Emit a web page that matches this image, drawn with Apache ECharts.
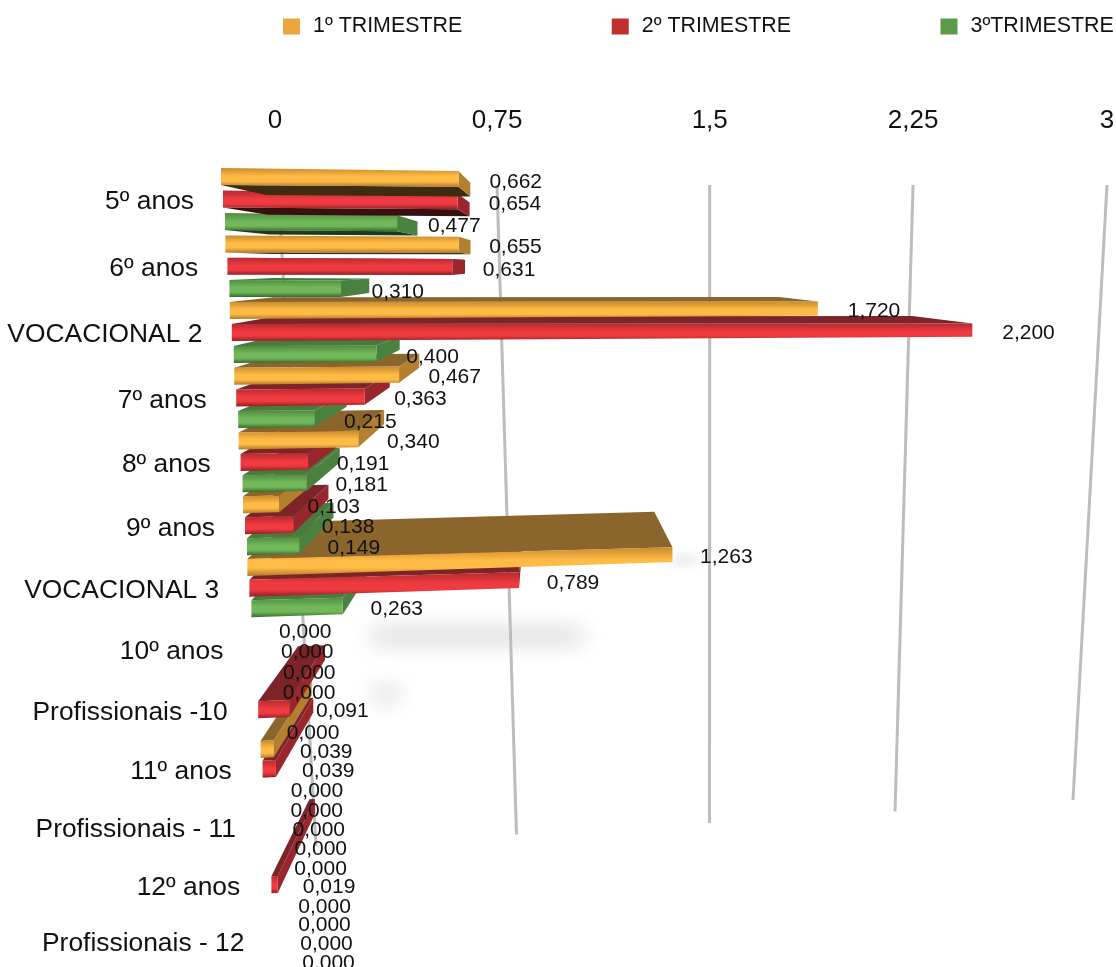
<!DOCTYPE html>
<html>
<head>
<meta charset="utf-8">
<script src="https://cdn.jsdelivr.net/npm/echarts@6/dist/echarts.min.js"></script>
<style>html,body{margin:0;padding:0;background:#fff}#c{width:1116px;height:967px}</style>
</head>
<body>
<div id="c"></div>
<script>
const categories = ['5º anos','6º anos','VOCACIONAL 2','7º anos','8º anos','9º anos','VOCACIONAL 3','10º anos','Profissionais -10','11º anos','Profissionais - 11','12º anos','Profissionais - 12'];
const trimestre1 = [0.662,0.655,1.720,0.467,0.340,0.103,1.263,0,0,0.039,0,0,0];
const trimestre2 = [0.654,0.631,2.200,0.363,0.191,0.138,0.789,0,0.091,0.039,0,0.019,0];
const trimestre3 = [0.477,0.310,0.400,0.215,0.181,0.149,0.263,0,0,0,0,0,0];
const seriesNames = ['1º TRIMESTRE','2º TRIMESTRE','3ºTRIMESTRE'];
const tickValues = [0,0.75,1.5,2.25,3];
const tickLabels = ['0','0,75','1,5','2,25','3'];
const allSeries = [trimestre1,trimestre2,trimestre3];

const FONT = '"Liberation Sans", Arial, sans-serif';
const G = {left:275, top:168, width:832, height:799};
const UNIT = G.width/3, BAND = G.height/categories.length;
const palettes = [
  {legend:'#eaa53b', edge:'#c98a2c', mid:'#ffbb45', low:'#b07a28', face:'#8a652c', under:'#3d2b12', cap:'#b3802f'},
  {legend:'#c1302e', edge:'#b52a2e', mid:'#ee3a40', low:'#8f1f24', face:'#7c2428', under:'#38100f', cap:'#98272d'},
  {legend:'#5a9a48', edge:'#4f8c40', mid:'#72b85a', low:'#356a2c', face:'#4b7a3d', under:'#1e3a1b', cap:'#4a8040'}
];
// perspective of the picture: vanishing point and its strength
const VP = {x:543, y:265, kx:0.14, ky:0.126};
const back = (p) => [p[0]+VP.kx*(VP.x-p[0]), p[1]-VP.ky*(p[1]-VP.y)];
const warpY = (r) => 199+66.7*r-0.403*r*r+3.5*Math.sin(Math.PI*r/12);
const fmt = (v) => v.toFixed(3).replace('.',',');

function softShadow(x,y,w,h,color,blur){
  // the rectangle sits off the canvas, only its blurred shadow lands on it
  return {type:'rect',z2:1,shape:{x:x-3000,y:y,width:w,height:h},
    style:{fill:color,shadowBlur:blur,shadowColor:color,shadowOffsetX:3000}};
}

function barRenderer(s){
  const pal = palettes[s];
  return function(params, api){
    const v0 = api.value(0);
    const p = api.coord([v0, api.value(1)]);
    const r = (p[1]-G.top)/BAND-0.5;
    const v = (p[0]-G.left)/UNIT;
    const x0 = 221+4.4*r+2*s;
    const len = (366-2.6*r)*v-11*v*v;
    const yc = warpY(r+(s-1)/3);
    const tilt = -0.0067*(r-1.5);
    const h0 = 8.5, h1 = 8.5*(1-0.0003*len);
    const TL=[x0,yc-h0], BL=[x0,yc+h0], TR=[x0+len,yc+tilt*len-h1], BR=[x0+len,yc+tilt*len+h1];
    const base = 1000-r*10-s*3;
    const kids = [];
    if(v0>0){
      const biggest = v0===Math.max(trimestre1[params.dataIndex],trimestre2[params.dataIndex],trimestre3[params.dataIndex]);
      if(r>=6 && v0>=0.09 && r<=8 && biggest){
        const sy = yc+68-42*(r-6);
        kids.push(softShadow(x0+115+0.02*len,sy-4,Math.max(24,0.5*len),9,'#bdbdbd',22));
        if(r<7) kids.push(softShadow(x0+len,yc+tilt*len+3,24,5,'#d2d2d2',12));
      }
      const isTop = yc>VP.y;
      const e1 = isTop?TL:BL, e2 = isTop?TR:BR;
      kids.push({type:'polygon',z2:base,shape:{points:[e1,e2,back(e2),back(e1)]},
        style:{fill:isTop?pal.face:pal.under}});
      if(x0+len<VP.x){
        kids.push({type:'polygon',z2:base+0.5,shape:{points:[TR,BR,back(BR),back(TR)]},style:{fill:pal.cap}});
      }
      kids.push({type:'polygon',z2:base+1,shape:{points:[TL,TR,BR,BL]},style:{
        fill:new echarts.graphic.LinearGradient(0,0,0,1,[
          {offset:0,color:pal.edge},{offset:0.45,color:pal.mid},{offset:0.72,color:pal.mid},{offset:1,color:pal.low}])}});
    }
    kids.push({type:'text',z2:5000,style:{text:fmt(v0),x:x0+len+31-0.55*r,y:yc+tilt*len+3,
      fill:'#111',fontSize:21,fontFamily:FONT,textAlign:'left',textVerticalAlign:'middle'}});
    return {type:'group',children:kids};
  };
}

const barSeries = allSeries.map((vals,s)=>({
  name:seriesNames[s], type:'custom', clip:false, silent:true,
  itemStyle:{color:palettes[s].legend},
  encode:{x:0,y:1},
  data:vals.map((v,i)=>[v,i]),
  renderItem:barRenderer(s)
}));

const gridSeries = {
  type:'custom', clip:false, silent:true, encode:{x:0,y:1},
  data:tickValues.map((t,i)=>[t,0,i]),
  renderItem(params, api){
    const px = api.coord([api.value(0),0])[0];
    const t = (px-G.left)/G.width;
    const top = 275+G.width*(1.09*t-0.09*t*t);
    const lineTop = top+3*(1-Math.min(1,t*4));
    const bottom = 316+817*t-60*t*t;
    return {type:'group',children:[
      {type:'line',z2:0,shape:{x1:lineTop,y1:185,x2:bottom,y2:846-46*t},style:{stroke:'#bdbdbd',lineWidth:3}},
      {type:'text',z2:5000,style:{text:tickLabels[api.value(2)],x:top,y:121,fill:'#111',fontSize:26,fontFamily:FONT,textAlign:'center',textVerticalAlign:'middle'}}
    ]};
  }
};

const catSeries = {
  type:'custom', clip:false, silent:true, encode:{x:0,y:1},
  data:categories.map((c,i)=>[0,i]),
  renderItem(params, api){
    const y = api.coord([0,api.value(1)])[1];
    const r = (y-G.top)/BAND-0.5;
    return {type:'text',z2:5000,style:{text:categories[params.dataIndex],x:194+4.2*r,y:warpY(r)+2.5,
      fill:'#111',fontSize:26.4,fontFamily:FONT,textAlign:'right',textVerticalAlign:'middle'}};
  }
};

const chart = echarts.init(document.getElementById('c'),null,{renderer:'canvas'});
chart.setOption({
  animation:false,
  backgroundColor:'#fff',
  legend:{data:seriesNames,left:278,top:11,width:838,icon:'rect',itemWidth:17,itemHeight:16,itemGap:149.5,
    textStyle:{fontSize:21.4,fontFamily:FONT,color:'#111',padding:[0,0,0,8]}},
  grid:{left:G.left,top:G.top,width:G.width,height:G.height,containLabel:false},
  xAxis:{type:'value',position:'top',min:0,max:3,interval:0.75,axisLabel:{show:false},axisLine:{show:false},axisTick:{show:false},splitLine:{show:false}},
  yAxis:{type:'category',inverse:true,data:categories,axisLabel:{show:false},axisLine:{show:false},axisTick:{show:false}},
  series:[gridSeries].concat(barSeries,[catSeries])
});
</script>
</body>
</html>
